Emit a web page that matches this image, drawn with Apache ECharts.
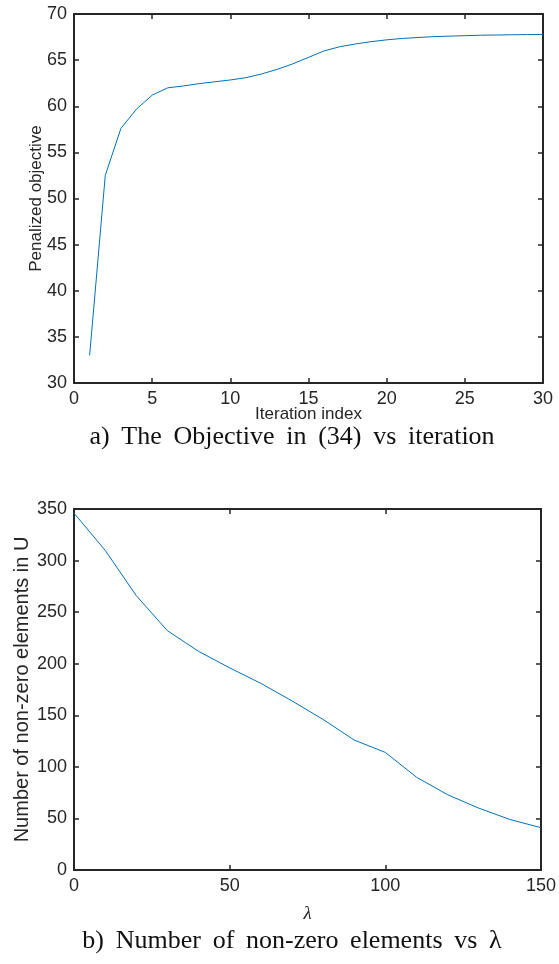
<!DOCTYPE html>
<html>
<head>
<meta charset="utf-8">
<script src="https://cdn.jsdelivr.net/npm/echarts@6/dist/echarts.min.js"></script>
<style>
html,body{margin:0;padding:0;background:#fff;}
#c{width:559px;height:964px;}
</style>
</head>
<body>
<div id="c"></div>
<script>
var iterations = [1,2,3,4,5,6,7,8,9,10,11,12,13,14,15,16,17,18,19,20,21,22,23,24,25,26,27,28,29,30];
var objective = [33.0,52.5,57.6,59.7,61.2,62.0,62.2,62.45,62.65,62.85,63.1,63.5,64.0,64.6,65.3,66.0,66.45,66.75,67.0,67.2,67.35,67.45,67.55,67.6,67.65,67.7,67.72,67.75,67.77,67.78];
var lambdas = [0,10,20,30,40,50,60,70,80,90,100,110,120,130,140,150];
var nonZero = [346,310,266,232,212,196,181,164,146,126,114,90,73,60,49,41];
var captionA = 'a) The Objective in (34) vs iteration';
var captionB = 'b) Number of non-zero elements vs \u03bb';

var axisColor = '#262626';
var lineColor = '#0072BD';
var sans = 'Liberation Sans, Arial, sans-serif';
var serif = 'Liberation Serif, Times New Roman, serif';
var tickFont = {color: axisColor, fontSize: 18, fontFamily: sans};

function wide(s) { return s.split(' ').join(' \u2009'); }

function mkAxis(opts, pos, showLabel, grid, extra) {
  var a = {
    type: 'value', gridIndex: grid, position: pos,
    min: opts.min, max: opts.max, interval: opts.interval,
    splitLine: {show: false},
    nameMoveOverlap: false,
    axisLine: {show: true, onZero: false, lineStyle: {color: axisColor, width: 2}},
    axisTick: {show: true, inside: true, length: 5, lineStyle: {color: axisColor, width: 1.5}},
    axisLabel: Object.assign({show: showLabel, margin: 7}, tickFont)
  };
  return Object.assign(a, extra || {});
}

var chart = echarts.init(document.getElementById('c'), null, {renderer: 'canvas'});
chart.setOption({
  backgroundColor: '#fff',
  animation: false,
  grid: [
    {left: 74, top: 14, width: 469, height: 369},
    {left: 74, top: 509, width: 469, height: 361}
  ],
  xAxis: [
    mkAxis({min: 0, max: 30, interval: 5}, 'bottom', true, 0, {name: 'Iteration index', nameLocation: 'middle', nameGap: 23, nameTextStyle: {color: axisColor, fontSize: 17, fontFamily: sans}}),
    mkAxis({min: 0, max: 30, interval: 5}, 'top', false, 0),
    mkAxis({min: 0, max: 150, interval: 50}, 'bottom', true, 1, {name: '\u03bb', nameLocation: 'middle', nameGap: 34, nameTextStyle: {color: axisColor, fontSize: 19, fontStyle: 'italic', fontFamily: serif}}),
    mkAxis({min: 0, max: 150, interval: 50}, 'top', false, 1)
  ],
  yAxis: [
    mkAxis({min: 30, max: 70, interval: 5}, 'left', true, 0, {name: 'Penalized objective', nameLocation: 'middle', nameGap: 29, nameTextStyle: {color: axisColor, fontSize: 17, fontFamily: sans}}),
    mkAxis({min: 30, max: 70, interval: 5}, 'right', false, 0),
    mkAxis({min: 0, max: 350, interval: 50}, 'left', true, 1, {name: 'Number of non-zero elements in U', nameLocation: 'middle', nameGap: 42, nameTextStyle: {color: axisColor, fontSize: 20, fontFamily: sans}}),
    mkAxis({min: 0, max: 350, interval: 50}, 'right', false, 1)
  ],
  series: [
    {type: 'line', xAxisIndex: 0, yAxisIndex: 0, showSymbol: false, symbol: 'none',
     lineStyle: {color: lineColor, width: 1}, data: iterations.map(function(x, i){ return [x, objective[i]]; })},
    {type: 'line', xAxisIndex: 2, yAxisIndex: 2, showSymbol: false, symbol: 'none',
     lineStyle: {color: lineColor, width: 1}, data: lambdas.map(function(x, i){ return [x, nonZero[i]]; })}
  ],
  graphic: [
    {type: 'text', x: 292, y: 437, style: {text: wide(captionA), fill: '#111', fontSize: 26, fontFamily: serif, textAlign: 'center', textVerticalAlign: 'middle'}},
    {type: 'text', x: 292, y: 941, style: {text: wide(captionB), fill: '#111', fontSize: 26, fontFamily: serif, textAlign: 'center', textVerticalAlign: 'middle'}}
  ]
});
</script>
</body>
</html>
